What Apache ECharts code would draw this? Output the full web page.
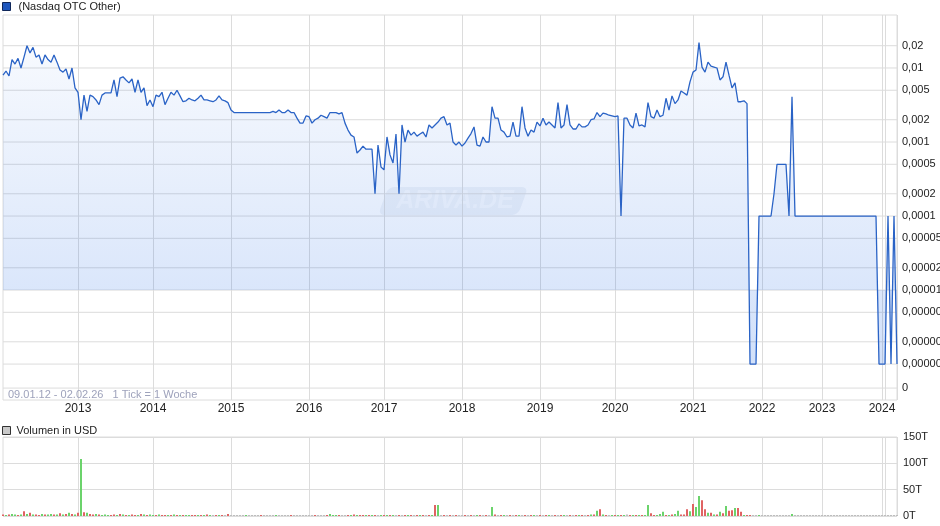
<!DOCTYPE html>
<html>
<head>
<meta charset="utf-8">
<script src="https://cdn.jsdelivr.net/npm/echarts@6/dist/echarts.min.js"></script>
<style>
html,body{margin:0;padding:0;background:#fff;}
#c{width:940px;height:526px;}
</style>
</head>
<body>
<div id="c"></div>
<script>
// ---- data ----
const years = [2012, 2013, 2014, 2015, 2016, 2017, 2018, 2019, 2020, 2021, 2022, 2023, 2024, 2025, 2026];
const pointsPerYear = [25, 25, 26, 26, 25, 26, 26, 25, 26, 23, 20, 20, 1, 4, 1];
const yearLabels = ['2013', '2014', '2015', '2016', '2017', '2018', '2019', '2020', '2021', '2022', '2023', '2024'];

const prices = [
  // 2012
  0.008, 0.0091, 0.0078, 0.013, 0.0113, 0.0135, 0.010, 0.014, 0.020, 0.016, 0.019, 0.014, 0.015, 0.0113, 0.015, 0.013, 0.012, 0.015, 0.012, 0.0094, 0.0088, 0.0097, 0.0071, 0.010, 0.0054,
  // 2013
  0.0047, 0.0020, 0.0043, 0.0026, 0.0043, 0.0041, 0.0037, 0.0032, 0.0043, 0.0046, 0.0046, 0.0046, 0.0069, 0.0041, 0.0073, 0.0076, 0.0069, 0.0063, 0.0071, 0.0047, 0.0069, 0.0047, 0.0054, 0.0031, 0.0037,
  // 2014
  0.0030, 0.0043, 0.0041, 0.0047, 0.0032, 0.0039, 0.0047, 0.0043, 0.0050, 0.0042, 0.0035, 0.0036, 0.0039, 0.0037, 0.0036, 0.0039, 0.0043, 0.0037, 0.0037, 0.0036, 0.0035, 0.0037, 0.0042, 0.0037, 0.0036, 0.0034,
  // 2015
  0.0027, 0.0025, 0.0025, 0.0025, 0.0025, 0.0025, 0.0025, 0.0025, 0.0025, 0.0025, 0.0025, 0.0025, 0.0025, 0.0025, 0.0026, 0.0025, 0.0027, 0.0025, 0.0025, 0.0027, 0.0025, 0.0025, 0.0021, 0.0018, 0.0018, 0.00225,
  // 2016
  0.0022, 0.0018, 0.0020, 0.0021, 0.0023, 0.0022, 0.0021, 0.0025, 0.0025, 0.0025, 0.0024, 0.0025, 0.0018, 0.00145, 0.00124, 0.00117, 0.00071, 0.00078, 0.00088, 0.0008, 0.0008, 0.0008, 0.0002, 0.00091, 0.00046,
  // 2017
  0.00042, 0.00117, 0.00067, 0.00052, 0.00128, 0.0002, 0.0017, 0.0010, 0.00145, 0.00124, 0.00136, 0.0012, 0.00128, 0.00136, 0.00117, 0.0017, 0.00155, 0.0017, 0.00186, 0.0021, 0.0022, 0.0017, 0.0018, 0.0010, 0.00091, 0.0010,
  // 2018
  0.00088, 0.00097, 0.00113, 0.0013, 0.0016, 0.00091, 0.00088, 0.00117, 0.0010, 0.0010, 0.0030, 0.0021, 0.0021, 0.00145, 0.00136, 0.00117, 0.0012, 0.00186, 0.0012, 0.0012, 0.0030, 0.00155, 0.0012, 0.00145, 0.00136, 0.00186,
  // 2019
  0.00165, 0.0021, 0.0017, 0.00186, 0.0017, 0.00155, 0.0034, 0.00155, 0.0017, 0.0032, 0.0017, 0.0015, 0.0015, 0.00176, 0.0016, 0.0016, 0.0017, 0.0020, 0.00205, 0.0025, 0.0022, 0.00246, 0.0024, 0.0023, 0.00225,
  // 2020
  0.0022, 0.00225, 0.0001, 0.0021, 0.0021, 0.0017, 0.00155, 0.00246, 0.00165, 0.0017, 0.0016, 0.0034, 0.0022, 0.0021, 0.0027, 0.0022, 0.0023, 0.0039, 0.0027, 0.0042, 0.0033, 0.0037, 0.0049, 0.0046, 0.0043, 0.0065,
  // 2021
  0.0088, 0.0094, 0.022, 0.0103, 0.0088, 0.012, 0.0106, 0.0103, 0.010, 0.0069, 0.0076, 0.012, 0.008, 0.0054, 0.0063, 0.0035, 0.0035, 0.0036, 0.0033, 0.000001, 0.000001, 0.000001, 0.0001,
  // 2022
  0.0001, 0.0001, 0.0001, 0.0001, 0.0002, 0.0005, 0.0005, 0.0005, 0.0005, 0.0001, 0.0041, 0.0001, 0.0001, 0.0001, 0.0001, 0.0001, 0.0001, 0.0001, 0.0001, 0.0001,
  // 2023
  0.0001, 0.0001, 0.0001, 0.0001, 0.0001, 0.0001, 0.0001, 0.0001, 0.0001, 0.0001, 0.0001, 0.0001, 0.0001, 0.0001, 0.0001, 0.0001, 0.0001, 0.0001, 0.0001, 0.000001,
  // 2024
  0.000001,
  // 2025
  0.000001, 0.0001, 0.000001, 0.0001,
  // 2026
  0.000001
];

// weekly volume in thousand USD (T)
const volumes = [
  // 2012
  3, 2, 3, 4, 3, 2, 3, 9, 4, 6, 3, 3, 2, 4, 3, 3, 4, 3, 3, 5, 3, 4, 6, 4, 3,
  // 2013
  6, 108, 7, 6, 4, 3, 4, 3, 2, 3, 2, 2, 3, 2, 4, 3, 2, 2, 3, 2, 2, 4, 3, 2, 3,
  // 2014
  2, 1, 3, 2, 2, 1, 2, 3, 1, 2, 1, 2, 2, 1, 1, 2, 1, 1, 3, 1, 0.3, 2, 1, 1, 0.3, 4,
  // 2015
  0.3, 0.3, 0.3, 0.3, 0.3, 1, 0.3, 0.3, 0.3, 0.3, 1, 0.3, 0.3, 0.3, 0.3, 1, 0.3, 0.3, 0.3, 0.3, 1, 0.3, 0.3, 0.3, 0.3, 0.3,
  // 2016
  0.3, 0.3, 1, 0.3, 0.3, 0.3, 1, 4, 1, 1, 1, 0.3, 0.3, 2, 1, 3, 1, 1, 1, 1, 2, 1, 2, 0.3, 1,
  // 2017
  1, 2, 1, 2, 0.3, 1, 0.3, 1, 1, 1, 0.3, 1, 1, 1, 0.3, 1, 1, 21, 21, 0.3, 1, 0.3, 1, 0.3, 1, 0.3,
  // 2018
  0.3, 1, 0.3, 1, 0.3, 1, 1, 0.3, 1, 0.3, 17, 3, 0.3, 1, 1, 0.3, 1, 0.3, 1, 1, 0.3, 1, 0.3, 1, 1, 0.3,
  // 2019
  1, 0.3, 1, 2, 0.3, 1, 0.3, 1, 2, 0.3, 1, 0.3, 1, 2, 1, 0.3, 1, 3, 3, 10, 13, 3, 2, 0.3, 1,
  // 2020
  1, 2, 2, 1, 3, 1, 1, 1, 2, 2, 2, 21, 5, 2, 2, 4, 8, 2, 2, 3, 4, 10, 3, 3, 13, 9,
  // 2021
  23, 17, 38, 30, 13, 6, 6, 3, 3, 8, 5, 19, 10, 11, 15, 15, 8, 2, 1, 1, 0.3, 0.3, 0.5,
  // 2022
  0.2, 0.2, 0.2, 0.2, 0.2, 0.2, 0.2, 0.2, 0.2, 0.2, 4, 0.2, 0.2, 0.2, 0.2, 0.2, 0.2, 0.2, 0.2, 0.2,
  // 2023
  0.2, 0.2, 0.2, 0.2, 0.2, 0.2, 0.2, 0.2, 0.2, 0.2, 0.2, 0.2, 0.2, 0.2, 0.2, 0.2, 0.2, 0.2, 0.2, 0.2,
  // 2024
  0.2,
  // 2025
  0.2, 0.2, 0.2, 0.2,
  // 2026
  0.2
];

// g = up week, r = down week, n = unchanged
const volSide = [
  'rgrggrgrgrgrrgrggrgrgrgrg',
  'rgrgrrgrgggrrgrgrgrrgrgrg',
  'grgrrgrgrgrggrrgrgrgnrgrnr',
  'nnnnngnnnnrnnnngnnnnrnnnnn',
  'nnrnnnrgggrnnrgrgrrgrgrng',
  'rgrgnrnrgrnrgrnrgrgnrnrnrn',
  'nrnrngrnrngrnrgnrnrgnrnrgn',
  'rnrgnrnrgnrnrgrnrgrgrgrng',
  'rgrgnrgrgrggrrgggrgrggrrrg',
  'rggrrgrgrgrgrrgrrgrrnng',
  'nnnnnnnnnngnnnnnnnnn',
  'nnnnnnnnnnnnnnnnnnnn',
  'n',
  'nnnn',
  'n'
].join('');

const tickValues = [0.02, 0.01, 0.005, 0.002, 0.001, 0.0005, 0.0002, 0.0001, 0.00005, 0.00002, 0.00001, 0.000005, 0.000002, 0.000001, 0.000000474];
const tickLabels = ['0,02', '0,01', '0,005', '0,002', '0,001', '0,0005', '0,0002', '0,0001', '0,00005', '0,00002', '0,00001', '0,000005', '0,000002', '0,000001', '0'];
const volTicks = { min: 0, max: 150, interval: 50 };

// ---- build ----
const categories = [];
const yearStart = new Set();
let idx = 0;
years.forEach((y, k) => {
  yearStart.add(idx);
  for (let j = 0; j < pointsPerYear[k]; j++) categories.push(y + '/' + (j + 1));
  idx += pointsPerYear[k];
});
const labelIdx = new Set();
yearStart.forEach(i => { if (yearLabels.indexOf(categories[i].split('/')[0]) >= 0) labelIdx.add(i); });
const lineIdx = new Set([...yearStart].filter(i => i > 0));

const FONT = '"Liberation Sans", Arial, sans-serif';
const sideColor = { g: '#6bd36b', r: '#e06363', n: '#bdbdbd' };
const firstCat = categories[0];
const lastCat = categories[categories.length - 1];

// horizontal log-axis grid lines with their right-hand labels
const tickSeries = tickValues.map((v, k) => ({
  type: 'line', name: 'tick' + k, xAxisIndex: 0, yAxisIndex: 0, z: 1, silent: true,
  symbol: 'none', showSymbol: false,
  data: [[firstCat, v], [lastCat, v]],
  lineStyle: { color: '#dcdcdc', width: 1 },
  endLabel: { show: true, formatter: tickLabels[k], distance: 5, fontSize: 11, color: '#222', fontFamily: FONT },
  emphasis: { disabled: true },
  tooltip: { show: false }
}));

const chart = echarts.init(document.getElementById('c'), null, { renderer: 'canvas' });
chart.setOption({
  animation: false,
  backgroundColor: '#fff',
  textStyle: { fontFamily: FONT },
  legend: [
    {
      data: ['(Nasdaq OTC Other)'], left: 2, top: 1, padding: 0,
      icon: 'rect', itemWidth: 8, itemHeight: 8,
      itemStyle: { color: '#1f57bd', borderColor: '#10275a', borderWidth: 1 },
      textStyle: { fontSize: 11, color: '#222', fontFamily: FONT, padding: [0, 0, 0, 3] }
    },
    {
      data: ['Volumen in USD'], left: 2, top: 425, padding: 0,
      icon: 'rect', itemWidth: 8, itemHeight: 8,
      itemStyle: { color: '#c9c9c9', borderColor: '#333', borderWidth: 1 },
      textStyle: { fontSize: 11, color: '#222', fontFamily: FONT, padding: [0, 0, 0, 1] }
    }
  ],
  grid: [
    { left: 3, right: 43, top: 15, height: 385, show: true, borderColor: '#dcdcdc', borderWidth: 1, backgroundColor: 'transparent' },
    { left: 3, right: 43, top: 437, height: 79, show: true, borderColor: '#dcdcdc', borderWidth: 1, backgroundColor: 'transparent' }
  ],
  xAxis: [
    {
      type: 'category', gridIndex: 0, data: categories, boundaryGap: false,
      axisLine: { show: false }, axisTick: { show: false },
      axisLabel: {
        interval: (i) => labelIdx.has(i), margin: 3, fontSize: 12, color: '#222', fontFamily: FONT,
        formatter: (v) => v.split('/')[0]
      },
      splitLine: { show: true, interval: (i) => lineIdx.has(i), lineStyle: { color: '#dcdcdc', width: 1 } }
    },
    {
      type: 'category', gridIndex: 1, data: categories, boundaryGap: false,
      axisLine: { show: false }, axisTick: { show: false }, axisLabel: { show: false },
      splitLine: { show: true, interval: (i) => lineIdx.has(i), lineStyle: { color: '#dcdcdc', width: 1 } }
    }
  ],
  yAxis: [
    {
      type: 'log', gridIndex: 0, min: 0.000000327, max: 0.052, position: 'right',
      axisLine: { show: false }, axisTick: { show: false }, axisLabel: { show: false },
      splitLine: { show: false }, minorSplitLine: { show: false }
    },
    {
      type: 'value', gridIndex: 1, min: volTicks.min, max: volTicks.max, interval: volTicks.interval, position: 'right',
      axisLine: { show: false }, axisTick: { show: false },
      axisLabel: { margin: 6, fontSize: 11, color: '#222', fontFamily: FONT, formatter: (v) => v + 'T' },
      splitLine: { show: true, lineStyle: { color: '#dcdcdc', width: 1 } }
    }
  ],
  graphic: [
    {
      type: 'group', left: 378, top: 187, silent: true, z: 0,
      children: [
        { type: 'rect', shape: { x: 6, y: 0, width: 140, height: 28, r: 6 }, skewX: -0.35, style: { fill: 'rgba(120,145,190,0.10)' } },
        { type: 'text', x: 14, y: 2, style: { text: 'ARIVA.DE', font: 'italic bold 25px "Liberation Sans", Arial, sans-serif', fill: 'rgba(255,255,255,0.55)' } }
      ]
    },
    {
      type: 'text', left: 8, top: 389, silent: true, z: 10,
      style: { text: '09.01.12 - 02.02.26   1 Tick = 1 Woche', font: '11px "Liberation Sans", Arial, sans-serif', fill: '#9ea2bb' }
    }
  ],
  series: tickSeries.concat([
    {
      type: 'line', name: '(Nasdaq OTC Other)', xAxisIndex: 0, yAxisIndex: 0, data: prices, z: 3,
      symbol: 'none', showSymbol: false,
      lineStyle: { color: '#2a63c6', width: 1.3 },
      itemStyle: { color: '#1f57bd' },
      areaStyle: {
        origin: 0.00001,
        color: new echarts.graphic.LinearGradient(0, 0, 0, 1, [
          { offset: 0, color: 'rgba(40,110,230,0.05)' },
          { offset: 1, color: 'rgba(40,110,230,0.30)' }
        ])
      }
    },
    {
      type: 'bar', name: 'Volumen in USD', xAxisIndex: 1, yAxisIndex: 1, barWidth: 2, barMinHeight: 1,
      itemStyle: { color: '#c9c9c9' },
      data: volumes.map((v, i) => ({ value: v, itemStyle: { color: sideColor[volSide[i]] } }))
    }
  ])
});
</script>
</body>
</html>
